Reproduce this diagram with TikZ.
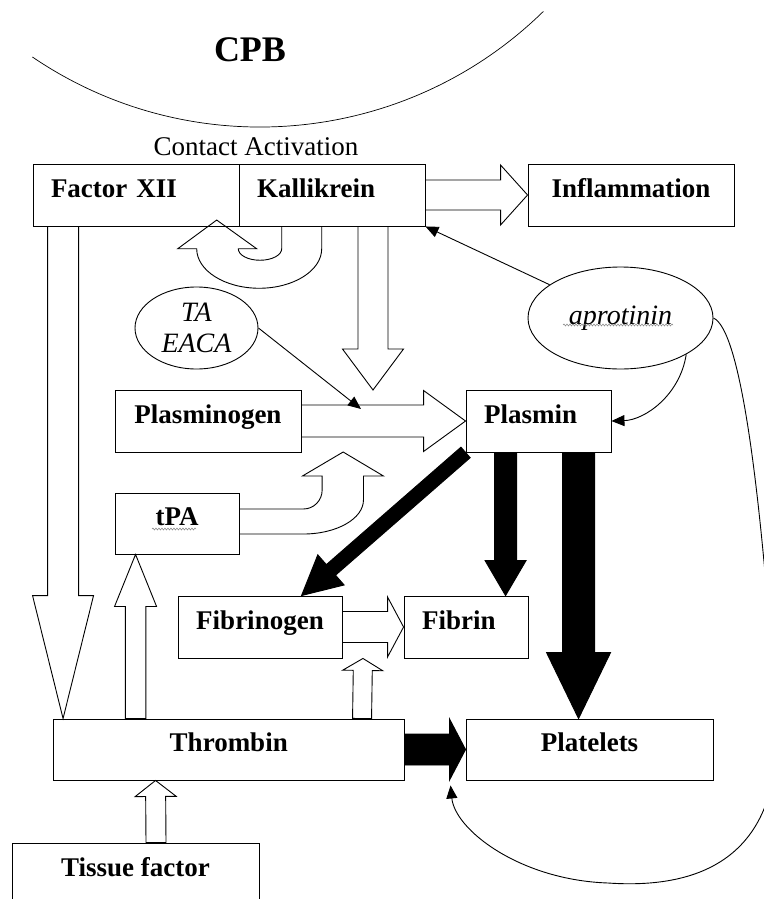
\documentclass[tikz,border=0pt]{standalone}
\usepackage{fontspec}
\setmainfont{Liberation Serif}
\usetikzlibrary{calc,arrows.meta,shapes.geometric,decorations.pathmorphing}

% wide block arrow: [style]{from}{to}{half shaft}{half head}{head length}
\newcommand{\blockarrow}[6][]{%
  \coordinate (ba-s) at (#2);
  \coordinate (ba-e) at (#3);
  \coordinate (ba-h) at ($(ba-e)!#6!(ba-s)$);
  \draw[#1] ($(ba-s)!#4!90:(ba-e)$) -- ($(ba-h)!#4!-90:(ba-s)$)
    -- ($(ba-h)!#5!-90:(ba-s)$) -- (ba-e) -- ($(ba-h)!#5!90:(ba-s)$)
    -- ($(ba-h)!#4!90:(ba-s)$) -- ($(ba-s)!#4!-90:(ba-e)$) -- cycle;
}

\begin{document}
\begin{tikzpicture}[x=1pt, y=-1pt,
  box/.style={draw, line width=0.9pt, minimum height=62pt, inner xsep=18pt, inner ysep=0pt,
    text height=18pt, text depth=14pt, font=\fontsize{27}{30}\selectfont\bfseries},
  boxl/.style={box, text width=#1, align=left},
  oval/.style={draw, ellipse, line width=0.9pt, inner sep=0pt, align=center,
    font=\fontsize{28}{31}\selectfont\itshape},
  openarrow/.style={draw=black, line width=0.9pt},
  darkarrow/.style={draw=black, fill=black, line width=0.9pt},
  link/.style={line width=0.9pt, -{Triangle[length=13pt,width=11pt]}},
  squiggle/.style={gray, line width=0.5pt, decorate, decoration={snake, amplitude=1pt, segment length=3pt}}]
\useasboundingbox (0,0) rectangle (763,899);

\draw[line width=0.7pt] (32.4,57) arc[start angle=124.2, end angle=45.6, radius=405];
\node[anchor=base, font=\fontsize{36}{40}\selectfont\bfseries] (cpb) at (250,62) {CPB};
\node[anchor=base, font=\fontsize{27}{30}\selectfont] (contact) at (256,155) {Contact Activation};

\node[boxl=170pt] (fxii) at (136,195) {Factor XII};
\node[boxl=150pt] (kal) at (332,195) {Kallikrein};
\node[box, minimum width=206pt] (infl) at (631,195) {Inflammation};
\node[oval, minimum width=123pt, minimum height=82pt] (taeaca) at (196.5,328) {TA\\EACA};
\node[oval, minimum width=185pt, minimum height=102pt] (apro) at (620.5,318) {aprotinin};
\node[box, minimum width=186pt] (plg) at (208,421) {Plasminogen};
\node[boxl=109pt] (plm) at (538.5,421) {Plasmin};
\node[box, minimum width=124pt, minimum height=61pt] (tpa) at (177,523.5) {tPA};
\node[box, minimum width=164pt] (fbg) at (260,627) {Fibrinogen};
\node[boxl=88pt] (fib) at (466,627) {Fibrin};
\node[box, minimum width=350.5pt, minimum height=61pt] (thr) at (228.75,749.5) {Thrombin};
\node[box, minimum width=247pt, minimum height=61pt] (plt) at (589.5,749.5) {Platelets};
\node[box, minimum width=247pt] (tf) at (135.5,874) {Tissue factor};

\draw[squiggle] (563,325) -- (673,325);
\draw[squiggle] (152,529) -- (196,529);

\coordinate (conv) at (373,390);
\coordinate (lysis) at (361,409);

\blockarrow[openarrow]{kal.east}{infl.west}{15pt}{30pt}{27pt}
\blockarrow[openarrow]{[xshift=30.5pt]fxii.south west}{[xshift=10pt]thr.north west}{15.5pt}{30.5pt}{123pt}
\blockarrow[openarrow]{[xshift=41pt]kal.south}{conv}{15pt}{30.5pt}{41pt}
\blockarrow[openarrow]{plg.east}{plm.west}{16pt}{30.5pt}{42pt}
\blockarrow[openarrow]{[xshift=82.5pt]thr.north west}{[xshift=21pt]tpa.south west}{10.25pt}{21pt}{52pt}
\blockarrow[openarrow]{[xshift=309pt]thr.north west}{[xshift=20.5pt]fbg.south east}{9.5pt}{20pt}{12pt}
\blockarrow[openarrow]{fbg.east}{fib.west}{15.5pt}{30pt}{16pt}
\blockarrow[openarrow]{[xshift=20.5pt]tf.north}{[xshift=102.5pt]thr.south west}{10pt}{20.5pt}{16pt}

\blockarrow[darkarrow]{plm.south west}{[xshift=124pt]fbg.north west}{7pt}{20pt}{39pt}
\blockarrow[darkarrow]{[xshift=40pt]plm.south west}{[xshift=102pt]fib.north west}{11pt}{20.5pt}{35pt}
\blockarrow[darkarrow]{[xshift=113pt]plm.south west}{[xshift=113pt]plt.north west}{16pt}{32pt}{66pt}
\blockarrow[darkarrow]{thr.east}{plt.west}{15.5pt}{30.5pt}{16pt}

\draw[openarrow] ([xshift=-50.3pt]kal.south) -- ++(0,22.3)
  arc[start angle=0, end angle=180, x radius=21.7, y radius=11.5]
  -- ++(18.4,0) -- ++(-40,-28.7) -- ++(-39,28.7) -- ++(19,0)
  arc[start angle=180, end angle=0, x radius=62.5, y radius=39.5] -- ++(0,-22.3);
\draw[openarrow] ([yshift=14.5pt]tpa.east) -- ++(64,0)
  arc[start angle=90, end angle=0, x radius=18.7, y radius=19]
  -- ++(0,-14) -- ++(-19.7,0) -- ++(40.7,-24) -- ++(40.3,24) -- ++(-20,0) -- ++(0,24)
  arc[start angle=0, end angle=90, x radius=60, y radius=34] -- ++(-64,0);

\draw[link] (taeaca.east) -- (lysis);
\draw[link] (apro) -- (kal.south east);
\draw[link] (apro.south east) .. controls (680,395) and (645,420) .. (plm.east);
\draw[link] (apro.east) .. controls (740,330) and (760,480) .. (775,700)
  .. controls (790,850) and (710,890) .. (608,883)
  .. controls (520,880) and (455,830) .. ([shift={(-15,5)}]plt.south west);
\end{tikzpicture}
\end{document}
